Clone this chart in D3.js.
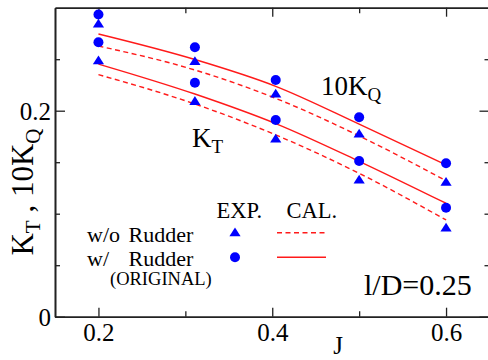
<!DOCTYPE html>
<html><head><meta charset="utf-8">
<script src="https://cdn.jsdelivr.net/npm/d3@7"></script>
<style>
body{margin:0;background:#fff}
svg{display:block}
</style>
</head><body><svg id="c" width="488" height="360"></svg>
<script>
const J = [0.2, 0.311, 0.404, 0.5, 0.6];
const kqWithExp    = [0.2934, 0.2616, 0.2298, 0.1936, 0.1489];
const kqWithoutExp = [0.2849, 0.2485, 0.2169, 0.1781, 0.1311];
const ktWithExp    = [0.2664, 0.2272, 0.1910, 0.1512, 0.1058];
const ktWithoutExp = [0.2492, 0.2097, 0.1732, 0.1334, 0.0868];
const kqWithCal    = [0.2745, 0.2497, 0.2237, 0.1870, 0.1473];
const kqWithoutCal = [0.2628, 0.2395, 0.2120, 0.1755, 0.1320];
const ktWithCal    = [0.2453, 0.2162, 0.1875, 0.1509, 0.1101];
const ktWithoutCal = [0.2350, 0.2065, 0.1765, 0.1392, 0.0939];
const xMajor = [0.2, 0.4, 0.6], xMinor = [0.3, 0.5];
const yMajor = [0, 0.2], yMinor = [0.05, 0.1, 0.15, 0.25];
const xLabels = ["0.2", "0.4", "0.6"], yLabels = ["0", "0.2"];

const SERIF = "'Liberation Serif', 'Times New Roman', Times, 'DejaVu Serif', serif";
const svg = d3.select("#c");
const x = d3.scaleLinear().domain([0.15, 0.65]).range([55, 489.5]);
const y = d3.scaleLinear().domain([0, 0.3]).range([316.7, 7.7]);
const X0 = 55, Y0 = 316.7, XR = 489.5, YT = 7.7;
const axisColor = "#222";

function styleAxis(g){
  g.attr("font-family", null).attr("font-size", null);
  g.selectAll("path.domain").attr("stroke", axisColor).attr("stroke-width", 1.6);
  g.selectAll(".tick line").attr("stroke", axisColor).attr("stroke-width", 1.3);
}
// bottom
svg.append("g").attr("transform",`translate(0,${Y0})`)
  .call(d3.axisBottom(x).tickValues(xMajor).tickSize(-9).tickSizeOuter(0)
     .tickFormat((d,i)=>xLabels[i]))
  .call(g=>{ styleAxis(g); g.selectAll("text").attr("dy",null).attr("y",24)
     .style("font-size","25px"); });
svg.append("g").attr("transform",`translate(0,${Y0})`)
  .call(d3.axisBottom(x).tickValues(xMinor).tickSize(-5.5).tickSizeOuter(0).tickFormat(""))
  .call(styleAxis);
// top
svg.append("g").attr("transform",`translate(0,${YT})`)
  .call(d3.axisTop(x).tickValues(xMajor).tickSize(-9).tickSizeOuter(0).tickFormat(""))
  .call(styleAxis);
svg.append("g").attr("transform",`translate(0,${YT})`)
  .call(d3.axisTop(x).tickValues(xMinor).tickSize(-5.5).tickSizeOuter(0).tickFormat(""))
  .call(styleAxis);
// left
svg.append("g").attr("transform",`translate(${X0},0)`)
  .call(d3.axisLeft(y).tickValues(yMajor).tickSize(-10).tickSizeOuter(0).tickPadding(4)
     .tickFormat((d,i)=>yLabels[i]))
  .call(g=>{ styleAxis(g); g.selectAll("text").attr("dy","0.34em").style("font-size","25px"); });
svg.append("g").attr("transform",`translate(${X0},0)`)
  .call(d3.axisLeft(y).tickValues(yMinor).tickSize(-5).tickSizeOuter(0).tickFormat(""))
  .call(styleAxis);
// right
svg.append("g").attr("transform",`translate(${XR},0)`)
  .call(d3.axisRight(y).tickValues(yMajor).tickSize(-10).tickSizeOuter(0).tickFormat(""))
  .call(styleAxis);
svg.append("g").attr("transform",`translate(${XR},0)`)
  .call(d3.axisRight(y).tickValues(yMinor).tickSize(-5).tickSizeOuter(0).tickFormat(""))
  .call(styleAxis);

// calculated lines
const line = d3.line().x((d,i)=>x(J[i])).y(d=>y(d)).curve(d3.curveMonotoneX);
const calSeries = [
  {v: kqWithCal, dash: null},
  {v: kqWithoutCal, dash: "5,3.5"},
  {v: ktWithCal, dash: null},
  {v: ktWithoutCal, dash: "5,3.5"}
];
calSeries.forEach(s=>{
  svg.append("path").attr("d", line(s.v)).attr("fill","none")
    .attr("stroke","#ff1a1a").attr("stroke-width",1.4)
    .attr("stroke-dasharray", s.dash);
});

// markers
const blue = "#0000ff";
const triPath = "M0,-4.6L5.6,4.2L-5.6,4.2Z";
function circles(vals){
  svg.append("g").selectAll("circle").data(vals).join("circle")
    .attr("cx",(d,i)=>x(J[i])).attr("cy",d=>y(d)).attr("r",5).attr("fill",blue);
}
function tris(vals){
  svg.append("g").selectAll("path").data(vals).join("path")
    .attr("d",triPath).attr("transform",(d,i)=>`translate(${x(J[i])},${y(d)})`).attr("fill",blue);
}
circles(kqWithExp); tris(kqWithoutExp); circles(ktWithExp); tris(ktWithoutExp);

// curve labels
const t1 = svg.append("text").attr("x",321).attr("y",95).style("font-size","27px");
t1.append("tspan").text("10K");
t1.append("tspan").attr("dy",6).style("font-size","19px").text("Q");
const t2 = svg.append("text").attr("x",192).attr("y",147).style("font-size","27px");
t2.append("tspan").text("K");
t2.append("tspan").attr("dy",6).style("font-size","19px").text("T");

// legend
svg.append("text").attr("x",216.5).attr("y",218).style("font-size","22.5px").text("EXP.");
svg.append("text").attr("x",286.5).attr("y",218).style("font-size","22.5px").text("CAL.");
svg.append("text").attr("x",87).attr("y",241.7).style("font-size","22px").text("w/o");
svg.append("text").attr("x",128.5).attr("y",241.7).style("font-size","22px").text("Rudder");
svg.append("text").attr("x",87).attr("y",266).style("font-size","22px").text("w/");
svg.append("text").attr("x",128.5).attr("y",266).style("font-size","22px").text("Rudder");
svg.append("text").attr("x",110).attr("y",285).style("font-size","18.5px").text("(ORIGINAL)");
svg.append("path").attr("d",triPath).attr("transform","translate(235,232)").attr("fill",blue);
svg.append("circle").attr("cx",235).attr("cy",257.3).attr("r",5).attr("fill",blue);
svg.append("line").attr("x1",277).attr("x2",326).attr("y1",232.7).attr("y2",232.7)
  .attr("stroke","#ff1a1a").attr("stroke-width",1.4).attr("stroke-dasharray","5,3.5");
svg.append("line").attr("x1",277).attr("x2",326).attr("y1",257.3).attr("y2",257.3)
  .attr("stroke","#ff1a1a").attr("stroke-width",1.6);

svg.append("text").attr("x",364).attr("y",295).style("font-size","30px").text("l/D=0.25");

// axis titles
svg.append("text").attr("x",338).attr("y",354).attr("text-anchor","middle").style("font-size","25px").text("J");
const yt = svg.append("text").attr("transform","translate(33,192) rotate(-90)")
  .attr("text-anchor","middle").style("font-size","31px");
yt.append("tspan").text("K");
yt.append("tspan").attr("dy",7).style("font-size","21px").text("T");
yt.append("tspan").attr("dy",-7).text(" , 10K");
yt.append("tspan").attr("dy",7).style("font-size","21px").text("Q");

svg.selectAll("text").style("font-family", SERIF).attr("fill", "#000").style("white-space","pre");
</script>
</body></html>
